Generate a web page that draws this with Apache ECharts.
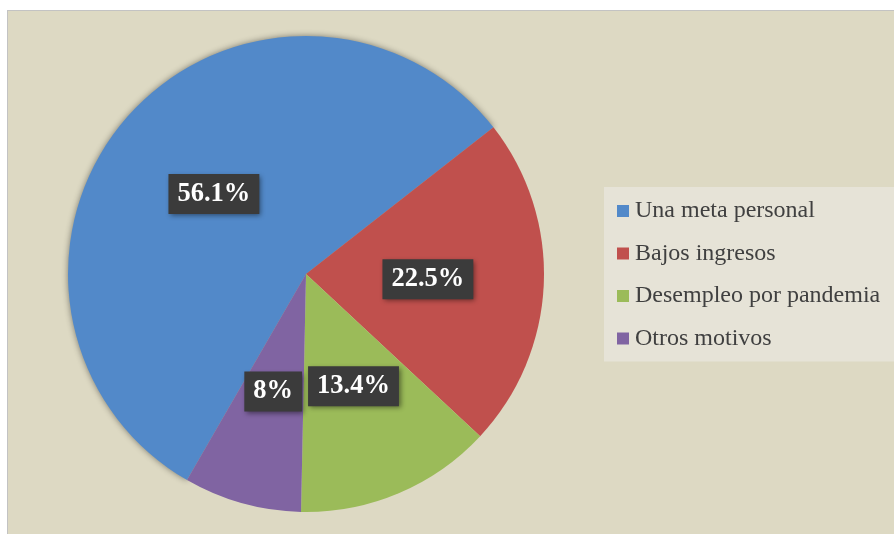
<!DOCTYPE html>
<html>
<head>
<meta charset="utf-8">
<script src="https://cdn.jsdelivr.net/npm/echarts@6/dist/echarts.min.js"></script>
<style>
  html, body { margin: 0; padding: 0; background: #ffffff; }
  #main {
    position: absolute; left: 7px; top: 10px;
    width: 887px; height: 524px;
    background: #ddd9c3;
    border-left: 1px solid #c3c3c3; border-top: 1px solid #c3c3c3;
  }
</style>
</head>
<body>
<div id="main"></div>
<script>
// categorias y porcentajes
var categorias = ['Una meta personal', 'Bajos ingresos', 'Desempleo por pandemia', 'Otros motivos'];
var porcentajes = [56.1, 22.5, 13.4, 8];
var colores = ['#5289c9', '#c0504d', '#9bbb59', '#8064a2'];

var myChart = echarts.init(document.getElementById('main'));

var datos = [];
for (var i = 0; i < categorias.length; i++) {
    datos.push({
        name: categorias[i],
        value: porcentajes[i],
        itemStyle: { color: colores[i] }
    });
}
// la porción azul lleva un borde oscuro como en el original
datos[0].itemStyle.shadowBlur = 6;
datos[0].itemStyle.shadowColor = 'rgba(0,0,0,0.45)';

myChart.setOption({
    animation: false,
    legend: {
        orient: 'vertical',
        left: 596,
        top: 176,
        backgroundColor: '#e6e3d7',
        padding: [12, 14, 11, 13],
        itemWidth: 12,
        itemHeight: 12,
        itemGap: 18.5,
        icon: 'rect',
        textStyle: {
            fontFamily: 'Liberation Serif',
            fontSize: 24,
            lineHeight: 24,
            color: '#404040',
            padding: [0, 0, 0, 1]
        },
        data: categorias
    },
    series: [
        {
            type: 'pie',
            center: [298, 263],
            radius: 238,
            startAngle: 240,
            clockwise: true,
            avoidLabelOverlap: false,
            label: {
                position: 'inside',
                formatter: '{c}%',
                color: '#ffffff',
                fontFamily: 'Liberation Serif',
                fontWeight: 'bold',
                fontSize: 26.5,
                lineHeight: 28,
                backgroundColor: '#3b3b3b',
                padding: [6, 9, 6, 9],
                shadowBlur: 5,
                shadowOffsetX: 2,
                shadowOffsetY: 2,
                shadowColor: 'rgba(0,0,0,0.45)'
            },
            labelLine: { show: false },
            data: datos
        }
    ]
});
window.onresize = myChart.resize;
</script>
</body>
</html>
